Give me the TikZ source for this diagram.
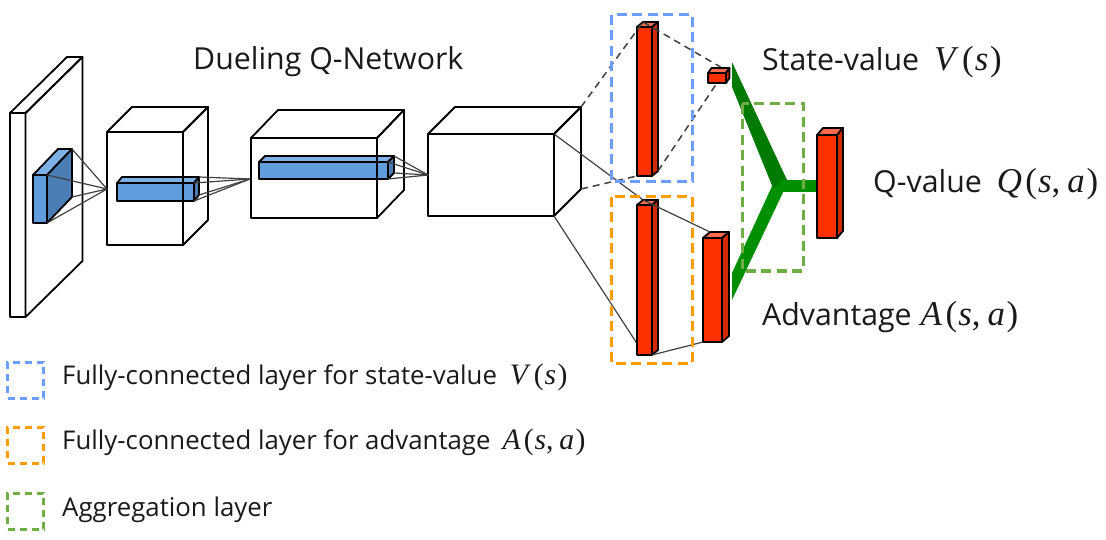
\documentclass[tikz,border=0pt]{standalone}
\usepackage{amsmath}
\usepackage{fontspec}
\setmainfont{Open Sans}
\newfontfamily\mfont[Scale=1.15]{Liberation Serif}
\usepackage{tikz}
\usetikzlibrary{calc}

\definecolor{blockfront}{HTML}{5F9DDC}
\definecolor{blocktop}{HTML}{7DB1E6}
\definecolor{blockside}{HTML}{4A7EB5}
\definecolor{redfront}{HTML}{FF3000}
\definecolor{redtop}{HTML}{FF6A50}
\definecolor{redside}{HTML}{D42A00}
\definecolor{framev}{HTML}{6C9EFF}
\definecolor{framea}{HTML}{FF9C0A}
\definecolor{frameq}{HTML}{70AD47}
\definecolor{armv}{HTML}{007A00}
\definecolor{arma}{HTML}{008F00}
\definecolor{txt}{HTML}{1A1A1A}

\tikzset{
  face/.style={draw=black,line width=1.8pt,line join=round},
  conn/.style={draw=black!75,line width=1.2pt},
  dconn/.style={conn,line width=1.5pt,dash pattern=on 7pt off 5pt},
  frame/.style={line width=3pt,dash pattern=on 10pt off 5.5pt},
  legbox/.style={line width=3pt,dash pattern=on 7pt off 5pt,minimum size=36pt,inner sep=0pt},
  lab/.style={anchor=base west,inner sep=0pt,text=txt,font=\fontsize{30.3}{34}\selectfont},
  leg/.style={anchor=base west,inner sep=0pt,text=txt,font=\fontsize{25.8}{30}\selectfont},
}

% the value functions, set as text
\newcommand{\fnv}{{\mfont\textit{V}\kern.1em(\kern.03em\textit{s}\kern.05em)}}
\newcommand{\fnq}{{\mfont\textit{Q}\kern.1em(\kern.03em\textit{s},\kern.2em\textit{a}\kern.05em)}}
\newcommand{\fna}{{\mfont\textit{A}\kern.1em(\kern.03em\textit{s},\kern.2em\textit{a}\kern.05em)}}

% name, fills (front, top, side), front top left, front bottom right, offset to the back
\newcommand{\cuboid}[7]{
  \coordinate (#1-a) at (#5);
  \coordinate (#1-c) at (#6);
  \coordinate (#1-b) at (#1-c |- #1-a);
  \coordinate (#1-d) at (#1-a |- #1-c);
  \coordinate (#1-e) at ($(#1-a)+(#7)$);
  \coordinate (#1-f) at ($(#1-b)+(#7)$);
  \coordinate (#1-g) at ($(#1-c)+(#7)$);
  \draw[face,fill=#2] (#1-a) -- (#1-b) -- (#1-c) -- (#1-d) -- cycle;
  \draw[face,fill=#3] (#1-a) -- (#1-e) -- (#1-f) -- (#1-b) -- cycle;
  \draw[face,fill=#4] (#1-b) -- (#1-f) -- (#1-g) -- (#1-c) -- cycle;
}

\begin{document}
\begin{tikzpicture}[x=1pt,y=-1pt]
  \useasboundingbox (0,0) rectangle (1106,540);

  % convolution blocks go under the wire boxes
  \cuboid{blockA}{blockfront}{blocktop}{blockside}{33,175}{47,223}{25,-26}
  \cuboid{blockB}{blockfront}{blocktop}{blockside}{117,183}{194,201}{5,-6}
  \cuboid{blockC}{blockfront}{blocktop}{blockside}{259,162}{388,179}{6,-6}

  \cuboid{input}{none}{none}{none}{10,113}{25.5,317}{57,-56}
  \cuboid{convA}{none}{none}{none}{107,132}{183,245}{25,-25}
  \cuboid{convB}{none}{none}{none}{251,138}{377,218}{27,-28}
  \cuboid{convC}{none}{none}{none}{428,134}{554,216}{27,-27}

  \coordinate (tipA) at (107,189);
  \coordinate (tipB) at (250,179);
  \coordinate (tipC) at (428,175);
  \foreach \c in {f,b,c,g}{
    \draw[conn] (blockA-\c) -- (tipA);
    \draw[conn] (blockB-\c) -- (tipB);
    \draw[conn] (blockC-\c) -- (tipC);
  }

  % fully-connected layers
  \coordinate (fcVe) at (643,22);
  \coordinate (fcVd) at (637,176);
  \coordinate (fcVg) at (658,171);
  \coordinate (smallT) at (720.5,67);
  \coordinate (smallB) at (717,83);
  \coordinate (fcAe) at (643,200);
  \coordinate (fcAs) at (644.5,355);

  \draw[conn] (convC-b) -- (fcAe);
  \draw[conn] (convC-c) -- (fcAs);

  \cuboid{fcV}{redfront}{redtop}{redside}{637,27}{652,176}{6,-5}
  \cuboid{small}{redfront}{redtop}{redside}{708,73}{726,83}{3.5,-5}
  \cuboid{fcA}{redfront}{redtop}{redside}{637,205}{652,355}{6,-5}
  \cuboid{adv}{redfront}{redtop}{redside}{703,238}{722,342}{7,-6}

  \draw[dconn] (convC-f) -- (fcVe);
  \draw[dconn] (convC-g) -- (fcVd);
  \draw[dconn] (fcVe) -- (smallT);
  \draw[dconn] (fcVg) -- (smallB);
  \draw[conn] (fcA-e) -- (adv-e);
  \draw[conn] (fcA-c) -- (adv-d);

  % aggregation
  \fill[arma] (732,273) -- (773,184) -- (787,184) -- (732,300) -- cycle;
  \fill[armv] (732,62) -- (787,180) -- (773,188) -- (732,87) -- cycle;
  \fill[arma] (780,180) rectangle (818,192);

  \cuboid{qval}{redfront}{redtop}{redside}{817,135}{837,238}{6,-7}

  \draw[frame,framev] (611,15) rectangle (692,182);
  \draw[frame,framea] (611,197) rectangle (692,363);
  \draw[frame,frameq] (742,104) rectangle (803,271);

  \node[lab] (title) at (193,70) {Dueling Q-Network};
  \node[lab] (labV) at (762,71) {State-value\hspace{15pt}\fnv};
  \node[lab] (labQ) at (873,193) {Q-value\hspace{15pt}\fnq};
  \node[lab] (labA) at (762,325) {Advantage\hspace{9pt}\fna};

  \node[legbox,draw=framev] (legV) at (25.5,380) {};
  \node[legbox,draw=framea] (legA) at (25.5,445) {};
  \node[legbox,draw=frameq] (legQ) at (25.5,511) {};
  \node[leg] (txtV) at (62,384) {Fully-connected layer for state-value\hspace{13pt}\fnv};
  \node[leg] (txtA) at (62,449) {Fully-connected layer for advantage\hspace{12pt}\fna};
  \node[leg] (txtQ) at (62,516) {Aggregation layer};
\end{tikzpicture}
\end{document}
